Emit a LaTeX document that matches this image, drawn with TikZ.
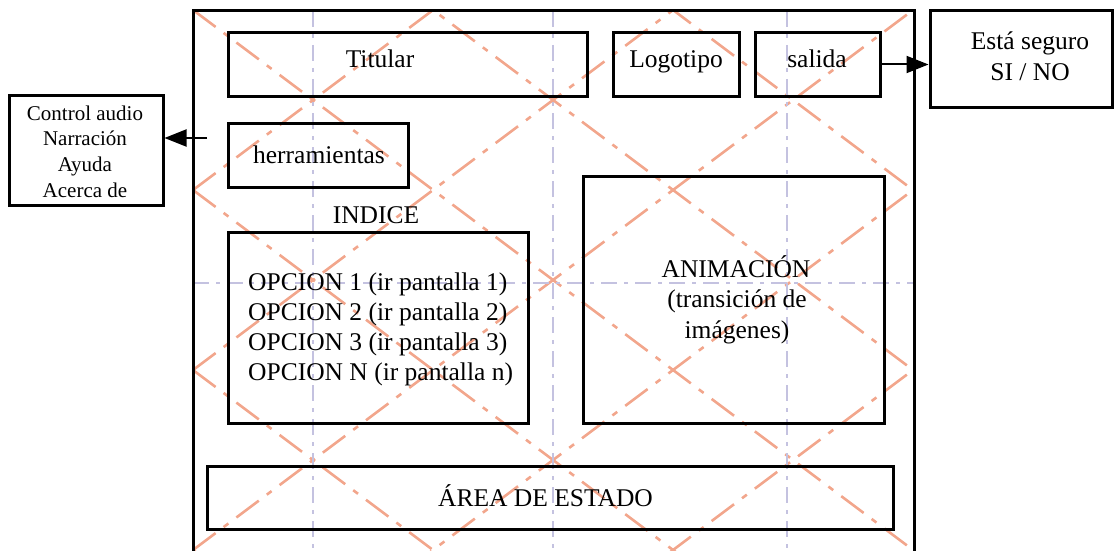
\documentclass[tikz,border=0pt]{standalone}
\usepackage{fontspec}
\setmainfont{Liberation Serif}
\usetikzlibrary{arrows.meta}
\definecolor{salmon}{RGB}{242,166,140}
\definecolor{lav}{RGB}{196,194,224}
\begin{document}
\begin{tikzpicture}[x=1pt,y=-1pt,
  box/.style={draw=black, line width=3pt, inner sep=0pt},
  txt/.style={inner sep=0pt, anchor=base, font=\fontsize{25.5}{30}\selectfont},
  txtl/.style={txt, anchor=base west},
  stxt/.style={inner sep=0pt, anchor=base, font=\fontsize{21}{25}\selectfont},
  arr/.style={line width=2pt, -{Triangle[length=22pt,width=17pt]}},
  sal/.style={draw=salmon, line width=2.6pt, dash pattern=on 28pt off 10pt on 6pt off 10pt},
  grd/.style={draw=lav, line width=2.3pt, dash pattern=on 16pt off 7pt on 4pt off 7pt}]
\useasboundingbox (0,0) rectangle (1114,551);
% background guide lines
\begin{scope}
  \clip (193,11) rectangle (914,600);
  \foreach \c in {-494.75,-314.75,-134.75,45.25,225.25,405.25}
    \draw[sal] (150,{0.75*150+\c}) -- (960,{0.75*960+\c});
  \foreach \d in {154.75,334.75,514.75,694.75,874.75,1054.75,1234.75}
    \draw[sal] (150,{-0.75*150+\d}) -- (960,{-0.75*960+\d});
  \foreach \x in {313,553,787}
    \draw[grd] (\x,11) -- (\x,600);
  \draw[grd] (193,283) -- (914,283);
\end{scope}
% frame
\node[box, minimum width=721pt, minimum height=579pt] (frame) at (553.5,300.5) {};
% boxes
\node[box, minimum width=359pt, minimum height=63pt] (titular) at (407.5,64.5) {};
\node[box, minimum width=126pt, minimum height=63pt] (logo) at (676,64.5) {};
\node[box, minimum width=125pt, minimum height=63pt] (salida) at (817.5,64.5) {};
\node[box, minimum width=182pt, minimum height=96pt] (esta) at (1021,59) {};
\node[box, minimum width=154pt, minimum height=110pt] (ctrl) at (86,150) {};
\node[box, minimum width=180pt, minimum height=64pt] (herr) at (318,155) {};
\node[box, minimum width=300pt, minimum height=191pt] (opc) at (378,327.5) {};
\node[box, minimum width=301pt, minimum height=247pt] (anim) at (733.5,299.5) {};
\node[box, minimum width=686pt, minimum height=63pt] (area) at (550,497.5) {};
% texts
\node[txt] (tTit) at (380,68) {Titular};
\node[txt] (tLogo) at (676,68) {Logotipo};
\node[txt] (tSal) at (817,68) {salida};
\node[txt] (tHerr) at (319,163) {herramientas};
\node[txt] (tInd) at (376,223) {INDICE};
\node[txtl] (tO1) at (248,290) {OPCION 1 (ir pantalla 1)};
\node[txtl] (tO2) at (248,320) {OPCION 2 (ir pantalla 2)};
\node[txtl] (tO3) at (248,350) {OPCION 3 (ir pantalla 3)};
\node[txtl] (tO4) at (248,380) {OPCION N (ir pantalla n)};
\node[txt] (tA1) at (736,277) {ANIMACIÓN};
\node[txt] (tA2) at (737,307) {(transición de};
\node[txt] (tA3) at (737,338) {imágenes)};
\node[txt] (tArea) at (545.5,506) {ÁREA DE ESTADO};
\node[txt] (tE1) at (1030,50) {Está seguro};
\node[txt] (tE2) at (1030,81) {SI / NO};
\node[stxt] (tC1) at (85,120) {Control audio};
\node[stxt] (tC2) at (85,145) {Narración};
\node[stxt] (tC3) at (85,171) {Ayuda};
\node[stxt] (tC4) at (85,197) {Acerca de};
% connectors
\draw[arr] (salida.east) -- (salida.east -| esta.west);
\coordinate (c1) at (207,138);
\draw[arr] (c1) -- (c1 -| ctrl.east);
\end{tikzpicture}
\end{document}
